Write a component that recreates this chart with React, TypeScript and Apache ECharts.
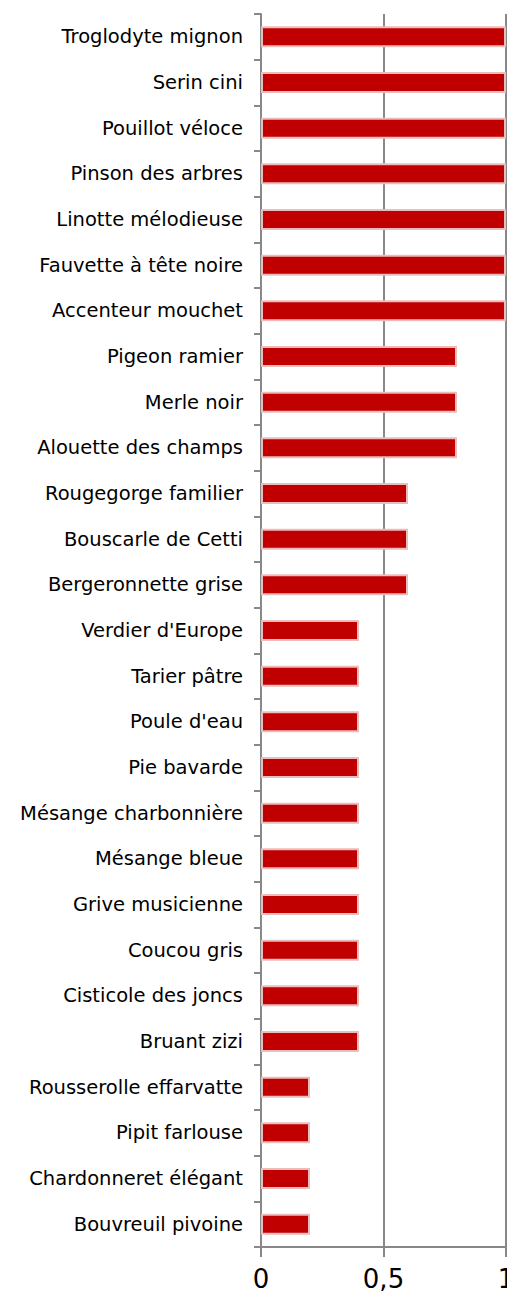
import React, { useEffect, useRef } from "react";
import * as echarts from "echarts";

const categories = [
  "Troglodyte mignon",
  "Serin cini",
  "Pouillot véloce",
  "Pinson des arbres",
  "Linotte mélodieuse",
  "Fauvette à tête noire",
  "Accenteur mouchet",
  "Pigeon ramier",
  "Merle noir",
  "Alouette des champs",
  "Rougegorge familier",
  "Bouscarle de Cetti",
  "Bergeronnette grise",
  "Verdier d'Europe",
  "Tarier pâtre",
  "Poule d'eau",
  "Pie bavarde",
  "Mésange charbonnière",
  "Mésange bleue",
  "Grive musicienne",
  "Coucou gris",
  "Cisticole des joncs",
  "Bruant zizi",
  "Rousserolle effarvatte",
  "Pipit farlouse",
  "Chardonneret élégant",
  "Bouvreuil pivoine",
];

const values = [
  1, 1, 1, 1, 1, 1, 1,
  0.8, 0.8, 0.8,
  0.6, 0.6, 0.6,
  0.4, 0.4, 0.4, 0.4, 0.4, 0.4, 0.4, 0.4, 0.4, 0.4,
  0.2, 0.2, 0.2, 0.2,
];

const xTicks = [0, 0.5, 1];

export default function App() {
  const ref = useRef<HTMLDivElement>(null);
  useEffect(() => {
    if (!ref.current) return;
    const chart = echarts.init(ref.current, null, { renderer: "svg" });
    const axisGray = "#888888";
    chart.setOption({
      animation: false,
      backgroundColor: "#ffffff",
      grid: {
        left: 261,
        right: 1,
        top: 14,
        bottom: 46,
        containLabel: false,
        outerBoundsMode: "none",
      },
      xAxis: {
        type: "value",
        min: xTicks[0],
        max: xTicks[xTicks.length - 1],
        interval: 0.5,
        axisLine: { show: true, lineStyle: { color: axisGray, width: 2 } },
        axisTick: { show: true, length: 10, lineStyle: { color: axisGray, width: 2 } },
        splitLine: { show: true, lineStyle: { color: axisGray, width: 2 } },
        axisLabel: {
          margin: 19,
          fontFamily: "DejaVu Sans",
          fontSize: 26,
          color: "#000000",
          formatter: (v: number) => String(v).replace(".", ","),
        },
      },
      yAxis: {
        type: "category",
        data: categories,
        inverse: true,
        axisLine: { show: true, lineStyle: { color: axisGray, width: 2 } },
        axisTick: { show: true, length: 7, lineStyle: { color: axisGray, width: 2 } },
        axisLabel: {
          margin: 18,
          fontFamily: "DejaVu Sans",
          fontSize: 19.5,
          color: "#000000",
          interval: 0,
        },
      },
      series: [
        {
          type: "bar",
          data: values,
          barWidth: 21,
          itemStyle: {
            color: "#c00000",
            borderColor: "#ebbcbc",
            borderWidth: 2,
          },
        },
      ],
    });
    return () => chart.dispose();
  }, []);
  return (
    <div
      ref={ref}
      style={{ position: "absolute", left: 0, top: 0, width: 507, height: 1293 }}
    />
  );
}
